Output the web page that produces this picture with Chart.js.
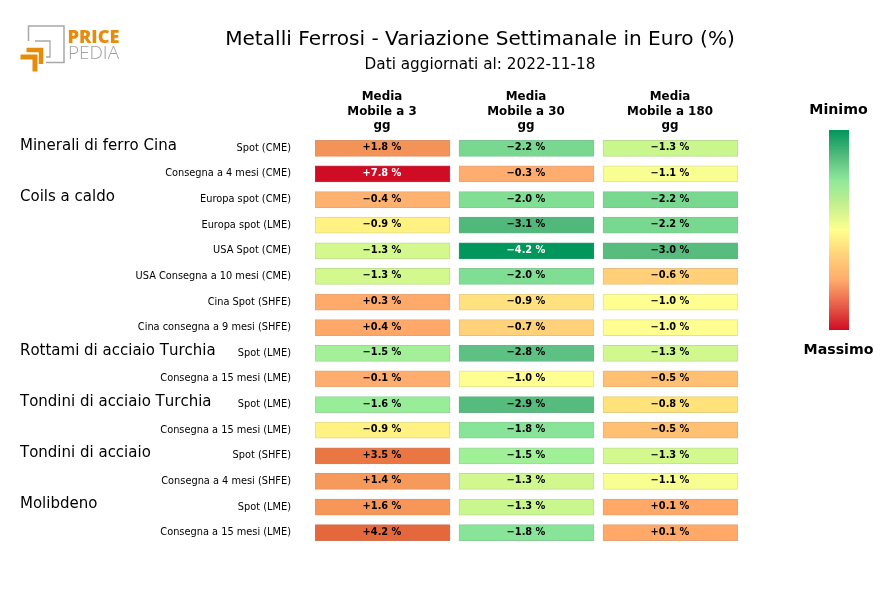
<!DOCTYPE html>
<html><head><meta charset="utf-8">
<script src="https://cdn.jsdelivr.net/npm/chart.js@4"></script>
<style>
html,body{margin:0;padding:0;background:#fff;width:880px;height:600px;overflow:hidden;font-family:"DejaVu Sans",sans-serif;color:#000}
#main{position:absolute;left:0;top:0}
#bar{position:absolute;left:829px;top:130px}
.t{position:absolute;white-space:nowrap;transform:translateX(-50%)}
#logo{position:absolute;left:0;top:0}
</style></head><body>
<canvas id="main" width="880" height="600"></canvas>
<canvas id="bar" width="20" height="200"></canvas>
<svg id="logo" width="130" height="80" xmlns="http://www.w3.org/2000/svg">
<path d="M28.500 41V26H64V62.500H46" fill="none" stroke="#a8a8a8" stroke-width="1.500"/>
<path d="M35 41H50V57H46" fill="none" stroke="#a8a8a8" stroke-width="1.300"/>
<path d="M26.500 50H41V64" fill="none" stroke="#e58c0a" stroke-width="4.500"/>
<path d="M20.500 57H35V71.500" fill="none" stroke="#e58c0a" stroke-width="5"/>
<text x="67.500" y="42.500" font-family="Open Sans" font-weight="800" font-size="18" fill="#e58c0a" textLength="52" lengthAdjust="spacingAndGlyphs">PRICE</text>
<text x="68" y="59" font-family="Open Sans" font-weight="300" font-size="18" fill="#a0a0a0" textLength="51" lengthAdjust="spacingAndGlyphs">PEDIA</text>
</svg>
<div class="t" style="left:480px;top:25.500px;font-size:20.100px">Metalli Ferrosi - Variazione Settimanale in Euro (%)</div>
<div class="t" style="left:480px;top:55px;font-size:15.270px">Dati aggiornati al: 2022-11-18</div>
<div class="t" style="left:838.500px;top:101px;font-size:14.200px;font-weight:700">Minimo</div>
<div class="t" style="left:838.500px;top:341px;font-size:14.200px;font-weight:700">Massimo</div>
<script>
const categories=["Spot (CME)","Consegna a 4 mesi (CME)","Europa spot (CME)","Europa spot (LME)","USA Spot (CME)","USA Consegna a 10 mesi (CME)","Cina Spot (SHFE)","Cina consegna a 9 mesi (SHFE)","Spot (LME)","Consegna a 15 mesi (LME)","Spot (LME)","Consegna a 15 mesi (LME)","Spot (SHFE)","Consegna a 4 mesi (SHFE)","Spot (LME)","Consegna a 15 mesi (LME)"];
const groupNames=["Minerali di ferro Cina","Coils a caldo","Rottami di acciaio Turchia","Tondini di acciaio Turchia","Tondini di acciaio","Molibdeno"];
const groupRows=[0,2,8,10,12,14];
const columnTitles=[["Media","Mobile a 3","gg"],["Media","Mobile a 30","gg"],["Media","Mobile a 180","gg"]];
const ma3=[1.8,7.8,-0.4,-0.9,-1.3,-1.3,0.3,0.4,-1.5,-0.1,-1.6,-0.9,3.5,1.4,1.6,4.2];
const ma30=[-2.2,-0.3,-2.0,-3.1,-4.2,-2.0,-0.9,-0.7,-2.8,-1.0,-2.9,-1.8,-1.5,-1.3,-1.3,-1.8];
const ma180=[-1.3,-1.1,-2.2,-2.2,-3.0,-0.6,-1.0,-1.0,-1.3,-0.5,-0.8,-0.5,-1.3,-1.1,0.1,0.1];
const colors3=["#f49358","#d00c24","#ffb26f","#fff282","#d2f88e","#d2f88e","#ffa96a","#ffa86a","#a3f098","#ffad6e","#98ee98","#fff282","#ea7644","#f69a5c","#f69658","#e5673c"];
const colors30=["#78d890","#ffad6e","#80df94","#50b87a","#00965c","#7fdd94","#ffe27f","#ffd27a","#5cc182","#ffff91","#55bc7e","#88e498","#a0f098","#d0f88e","#c9f78e","#88e498"];
const colors180=["#c9f78e","#f8ff90","#78d890","#78d890","#58bc7e","#ffd078","#ffff91","#ffff91","#d0f88e","#ffc072","#ffe27a","#ffc072","#d2f88e","#f8ff90","#ffa868","#ffa868"];
const barStops=["#00965c","#52b97c","#8fe89a","#c5f08e","#ffff8f","#ffd27a","#ffab6c","#e8604a","#d00c24"];

const series=[ma3,ma30,ma180];
const palette=[colors3,colors30,colors180];
const CELL=135/144;
const fmt=v=>(v<0?"\u2212":"+")+Math.abs(v).toFixed(1)+" %";
const isDark=c=>c==="#d00c24"||c==="#00965c";
const edge=h=>{const n=parseInt(h.slice(1),16),m=x=>Math.round(x*0.72+150*0.28);return `rgb(${m(n>>16&255)},${m(n>>8&255)},${m(n&255)})`;};
const labels={id:"labels",afterDatasetsDraw(ch){
  const c=ch.ctx,xs=ch.scales.x,ys=ch.scales.y;
  c.save();
  c.textAlign="center";c.textBaseline="middle";c.font='bold 9.8px "DejaVu Sans"';
  series.forEach((s,d)=>{
    ch.getDatasetMeta(d).data.forEach((el,i)=>{
      c.fillStyle=isDark(palette[d][i])?"#fff":"#000";
      c.fillText(fmt(s[i]),xs.getPixelForValue(d+CELL/2)-0.5,el.y-0.5);
    });
  });
  c.fillStyle="#000";c.font='bold 11.9px "DejaVu Sans"';
  columnTitles.forEach((lines,d)=>lines.forEach((t,k)=>c.fillText(t,xs.getPixelForValue(d+CELL/2)-0.5,97+k*14.5)));
  c.textAlign="left";c.font='15px "DejaVu Sans"';c.fontKerning="none";
  groupNames.forEach((g,k)=>c.fillText(g,20,ys.getPixelForValue(groupRows[k])-2.500));
  c.restore();
}};
new Chart(document.getElementById("main"),{
  type:"bar",
  data:{labels:categories,datasets:series.map((s,d)=>({
    label:columnTitles[d].join(" "),
    data:s.map(()=>[d,d+CELL]),
    backgroundColor:palette[d],
    borderColor:palette[d].map(edge),
    borderWidth:1,borderSkipped:false,barThickness:16
  }))},
  options:{
    indexAxis:"y",responsive:false,animation:false,devicePixelRatio:1,
    layout:{padding:{left:0,right:142,top:135.500,bottom:54.500}},
    plugins:{legend:{display:false},title:{display:false},tooltip:{enabled:false}},
    datasets:{bar:{grouped:false}},
    scales:{
      x:{type:"linear",display:false,min:0,max:2+CELL},
      y:{afterFit(s){s.width=315;},grid:{display:false,drawTicks:false},border:{display:false},
         ticks:{autoSkip:false,padding:24,color:"#000",font:{family:"DejaVu Sans",size:9.8}}}
    }
  },
  plugins:[labels]
});
const bc=document.getElementById("bar"),g=bc.getContext("2d").createLinearGradient(0,0,0,200);
barStops.forEach((c,i)=>g.addColorStop(i/(barStops.length-1),c));
new Chart(bc,{
  type:"bar",
  data:{labels:["scala"],datasets:[{data:[1],backgroundColor:g,borderWidth:0,barPercentage:1,categoryPercentage:1}]},
  options:{responsive:false,animation:false,devicePixelRatio:1,
    plugins:{legend:{display:false},tooltip:{enabled:false}},
    scales:{x:{display:false},y:{display:false,min:0,max:1}}}
});
</script>
</body></html>
